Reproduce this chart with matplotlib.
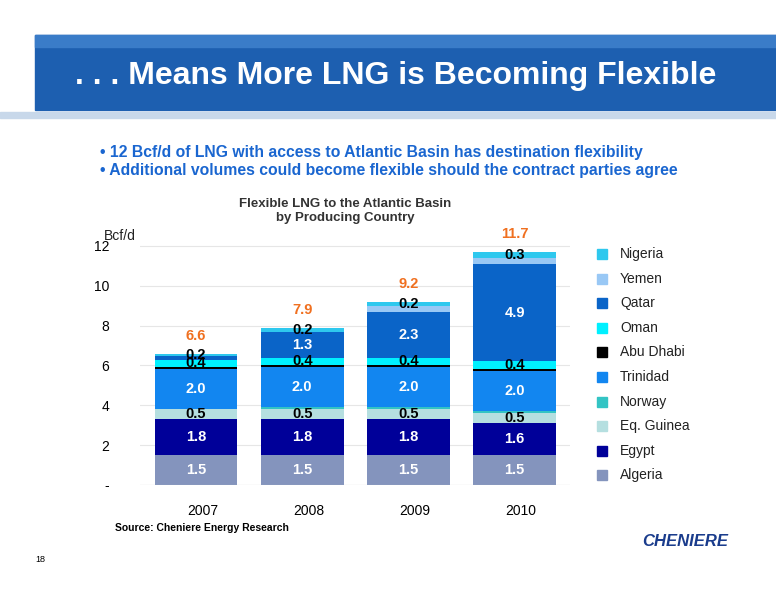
import matplotlib
matplotlib.use("Agg")
import matplotlib.pyplot as plt
from matplotlib.patches import Rectangle
import numpy as np

plt.rcParams['font.family'] = ['Liberation Sans', 'DejaVu Sans']

years = ["2007", "2008", "2009", "2010"]
series = ["Algeria", "Egypt", "Eq. Guinea", "Norway", "Trinidad", "Abu Dhabi", "Oman", "Qatar", "Yemen", "Nigeria"]
values = {
    "Algeria":    [1.5, 1.5, 1.5, 1.5],
    "Egypt":      [1.8, 1.8, 1.8, 1.6],
    "Eq. Guinea": [0.5, 0.5, 0.5, 0.5],
    "Norway":     [0.0, 0.1, 0.1, 0.1],
    "Trinidad":   [2.0, 2.0, 2.0, 2.0],
    "Abu Dhabi":  [0.1, 0.1, 0.1, 0.1],
    "Oman":       [0.4, 0.4, 0.4, 0.4],
    "Qatar":      [0.2, 1.3, 2.3, 4.9],
    "Yemen":      [0.0, 0.0, 0.3, 0.3],
    "Nigeria":    [0.1, 0.2, 0.2, 0.3],
}
totals = [6.6, 7.9, 9.2, 11.7]
colors = {
    "Algeria": "#8494bd", "Egypt": "#000099", "Eq. Guinea": "#b5dfe0", "Norway": "#33c4c4",
    "Trinidad": "#1286f0", "Abu Dhabi": "#000000", "Oman": "#00f0ff", "Qatar": "#0a64c8",
    "Yemen": "#99c8f5", "Nigeria": "#2ec8ee",
}
white_labels = {"Algeria", "Egypt", "Trinidad", "Qatar"}
labeled = {"Algeria": [1, 1, 1, 1], "Egypt": [1, 1, 1, 1], "Eq. Guinea": [1, 1, 1, 1],
           "Trinidad": [1, 1, 1, 1], "Oman": [1, 1, 1, 1], "Qatar": [1, 1, 1, 1],
           "Nigeria": [0, 1, 1, 1]}

fig = plt.figure(figsize=(7.76, 6.0), dpi=100)
fig.patch.set_facecolor("white")

bg = fig.add_axes([0, 0, 1, 1], zorder=-1)
bg.set_xlim(0, 776); bg.set_ylim(600, 0); bg.axis("off")
bg.add_patch(Rectangle((35, 35), 741, 75, color="#1d5fb0"))
bg.add_patch(Rectangle((35, 35), 741, 12, color="#3a7cc8"))
bg.add_patch(Rectangle((0, 112), 776, 6, color="#c8d8ea"))
bg.text(75, 76, ". . . Means More LNG is Becoming Flexible", color="white", fontsize=23,
        fontweight="bold", va="center", ha="left")
bg.text(100, 152, "• 12 Bcf/d of LNG with access to Atlantic Basin has destination flexibility",
        color="#1a66d0", fontsize=11.3, fontweight="bold", va="center")
bg.text(100, 171, "• Additional volumes could become flexible should the contract parties agree",
        color="#1a66d0", fontsize=11.3, fontweight="bold", va="center")
bg.text(345, 211, "Flexible LNG to the Atlantic Basin\nby Producing Country", ha="center", va="center",
        fontsize=9.5, fontweight="bold", color="#333333", linespacing=1.2)
bg.text(104, 236, "Bcf/d", fontsize=10, va="center", color="#222222")
bg.text(115, 528, "Source: Cheniere Energy Research", fontsize=7.5, fontweight="bold", va="center")
bg.text(35, 560, "18", fontsize=6.5, va="center")
bg.text(685, 541, "CHENIERE", fontsize=12, fontweight="bold", fontstyle="italic", color="#1a3c8c",
        ha="center", va="center")

ax = fig.add_axes([140/776, 115/600, 430/776, 249/600])
x = np.arange(len(years))
bottom = np.zeros(len(years))
for s in series:
    v = np.array(values[s])
    ax.bar(x, v, 0.78, bottom=bottom, color=colors[s], edgecolor="none", zorder=2)
    if s in labeled:
        for i in range(len(years)):
            if labeled[s][i] and v[i] > 0:
                small = s == "Qatar" and v[i] < 0.5
                ax.text(x[i], bottom[i] + v[i] / 2 + (0.15 if small else 0), f"{v[i]:.1f}",
                        ha="center", va="center", fontsize=10.5, fontweight="bold",
                        color="white" if (s in white_labels and not small) else "black", zorder=3)
    bottom += v
for i, t in enumerate(totals):
    ax.text(x[i], bottom[i] + 0.9, f"{t:.1f}", ha="center", va="center", color="#f07020",
            fontsize=10.5, fontweight="bold")
ax.set_xlim(-0.527, 3.52)
ax.set_ylim(0, 12.5)
ax.set_yticks([0, 2, 4, 6, 8, 10, 12])
ax.set_yticklabels(["-", "2", "4", "6", "8", "10", "12"], fontsize=10)
ax.set_xticks(x + 0.06)
ax.set_xticklabels(years, fontsize=10)
ax.tick_params(length=0, pad=14)
ax.tick_params(axis="y", pad=22)
ax.grid(axis="y", color="#e6e6e6", lw=0.8, zorder=0)
for sp in ax.spines.values():
    sp.set_visible(False)
ax.axhline(0, color="#cccccc", lw=0.8)

leg_items = series[::-1]
for k, s in enumerate(leg_items):
    y = 254 + k * 24.6
    bg.add_patch(Rectangle((597, y - 5), 10, 10, color=colors[s]))
    bg.text(620, y, s, fontsize=10, va="center", color="#222222")

fig.savefig("out.png", dpi=100)
